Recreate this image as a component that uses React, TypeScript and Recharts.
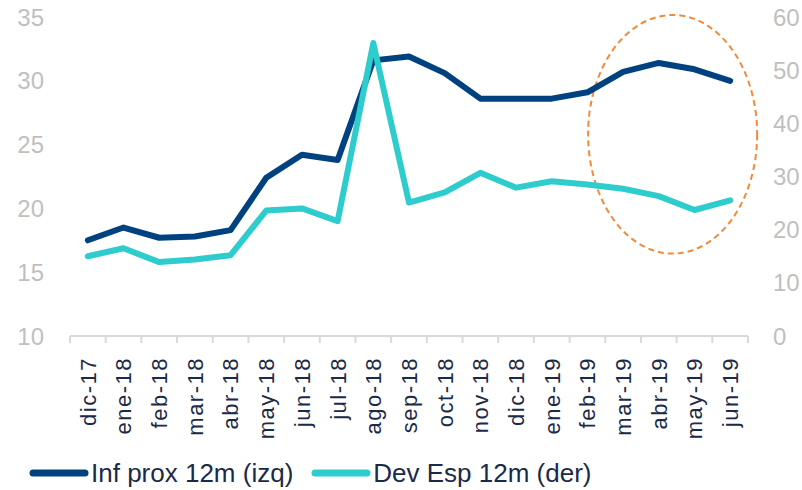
import {
  LineChart, Line, XAxis, YAxis, Legend, ReferenceArea,
} from 'recharts';

const months = [
  'dic-17', 'ene-18', 'feb-18', 'mar-18', 'abr-18', 'may-18', 'jun-18', 'jul-18', 'ago-18', 'sep-18',
  'oct-18', 'nov-18', 'dic-18', 'ene-19', 'feb-19', 'mar-19', 'abr-19', 'may-19', 'jun-19',
];
const infProx = [17.5, 18.5, 17.7, 17.8, 18.3, 22.4, 24.2, 23.8, 31.6, 31.9, 30.6, 28.6, 28.6, 28.6, 29.1, 30.7, 31.4, 30.9, 30.0];
const devEsp = [15.0, 16.5, 13.9, 14.4, 15.2, 23.6, 24.0, 21.6, 55.1, 25.1, 27.0, 30.7, 27.9, 29.1, 28.5, 27.7, 26.3, 23.7, 25.5];
const leftTicks = [10, 15, 20, 25, 30, 35];
const rightTicks = [0, 10, 20, 30, 40, 50, 60];
const seriesNames = ['Inf prox 12m (izq)', 'Dev Esp 12m (der)'];

const data = months.map((m, i) => ({ month: m, inf: infProx[i], dev: devEsp[i] }));

const FONT = '"Liberation Sans", Arial, sans-serif';
const NAVY = '#00427f';
const TEAL = '#2ecccc';
const TEXT = '#1b2a47';
const GRID = '#d9d9d9';
const BAND = 678 / months.length;

const MonthTick = ({ x, y, payload, index }: any) => (
  <g>
    <line x1={x - BAND / 2} y1={y - 8} x2={x - BAND / 2} y2={y - 1} stroke={GRID} strokeWidth={2} />
    {index === months.length - 1 && (
      <line x1={x + BAND / 2} y1={y - 8} x2={x + BAND / 2} y2={y - 1} stroke={GRID} strokeWidth={2} />
    )}
    <text
      x={x} y={y + 13} dy="0.36em" textAnchor="end" transform={`rotate(-90, ${x}, ${y + 13})`}
      fill={TEXT} fontSize={22} letterSpacing={1.5} fontFamily={FONT}
    >
      {payload.value}
    </text>
  </g>
);

// dashed ellipse around the last months
const Ellipse = ({ x, y, width, height }: any) => (
  <ellipse
    cx={x + width / 2 - 4} cy={y + height / 2 - 1} rx={width / 2 + 31} ry={height / 2 + 1}
    fill="none" stroke="#f28a3a" strokeWidth={2} strokeDasharray="6 4"
  />
);

const LegendContent = ({ payload }: any) => {
  const items = seriesNames
    .map((n) => (payload || []).find((p: any) => p.value === n))
    .filter(Boolean);
  return (
    <div style={{ display: 'flex', alignItems: 'center', paddingLeft: 28, height: 34, fontFamily: FONT, fontSize: 26, color: TEXT }}>
      {items.map((p: any) => (
        <div key={p.value} style={{ display: 'flex', alignItems: 'center', marginRight: 17 }}>
          <svg width={62} height={10}>
            <line x1={5} y1={5} x2={57} y2={5} stroke={p.color} strokeWidth={7} strokeLinecap="round" />
          </svg>
          <span style={{ marginLeft: 1 }}>{p.value}</span>
        </div>
      ))}
    </div>
  );
};

export default function App() {
  return (
    <div style={{ position: 'absolute', left: 0, top: 0, background: '#fff' }}>
      <LineChart width={802} height={490} data={data} margin={{ top: 17, right: 0, left: 0, bottom: 0 }}>
        <XAxis
          dataKey="month" interval={0} height={120} tick={<MonthTick />} tickLine={false}
          padding={{ left: BAND / 2, right: BAND / 2 }}
          axisLine={{ stroke: GRID, strokeWidth: 2 }}
        />
        <YAxis
          yAxisId="left" domain={[10, 35]} ticks={leftTicks} width={70} axisLine={false} tickLine={false}
          tickSize={6} tickMargin={20} tick={{ fill: '#bfbfbf', fontSize: 24, fontFamily: FONT }}
        />
        <YAxis
          yAxisId="right" orientation="right" domain={[0, 60]} ticks={rightTicks} width={54} axisLine={false}
          tickLine={false} tickSize={6} tickMargin={19} tick={{ fill: '#bfbfbf', fontSize: 24, fontFamily: FONT, textAnchor: 'start' }}
        />
        <ReferenceArea
          yAxisId="right" x1="mar-19" x2="jun-19" y1={15.5} y2={60} shape={<Ellipse />} ifOverflow="visible"
        />
        <Line
          yAxisId="left" type="linear" dataKey="inf" name={seriesNames[0]} stroke={NAVY} strokeWidth={6}
          strokeLinecap="round" strokeLinejoin="round" dot={false} isAnimationActive={false}
        />
        <Line
          yAxisId="right" type="linear" dataKey="dev" name={seriesNames[1]} stroke={TEAL} strokeWidth={6}
          strokeLinecap="round" strokeLinejoin="round" dot={false} isAnimationActive={false}
        />
        <Legend verticalAlign="bottom" height={34} content={<LegendContent />} wrapperStyle={{ left: 0, width: 802 }} />
      </LineChart>
    </div>
  );
}
